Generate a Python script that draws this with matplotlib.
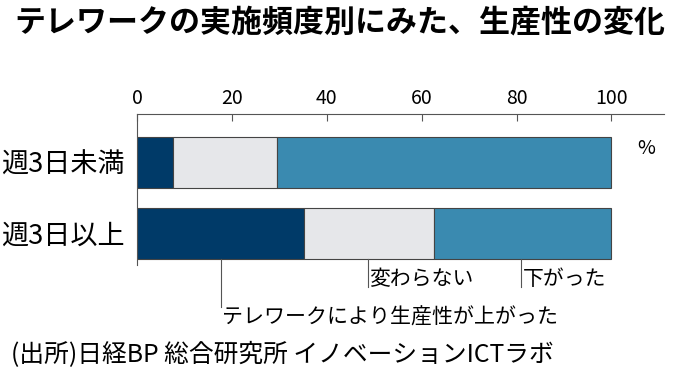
import matplotlib
matplotlib.use("Agg")
import matplotlib.pyplot as plt

plt.rcParams['font.family'] = ['Noto Sans CJK JP', 'DejaVu Sans']

categories = ['週3日未満', '週3日以上']
up = [7.5, 35.2]
same = [22.1, 27.3]
down = [70.4, 37.5]
seg_names = ['テレワークにより生産性が上がった', '変わらない', '下がった']
colors = ['#003a68', '#e6e7ea', '#3a8ab0']
title = 'テレワークの実施頻度別にみた、生産性の変化'
source = '(出所)日経BP 総合研究所 イノベーションICTラボ'

fig = plt.figure(figsize=(6.8, 3.78), dpi=100)
ax = fig.add_axes([0.2015, 0.299, 0.7745, 0.399])

ypos = list(range(len(categories)))
left = [0.0] * len(categories)
for vals, c in zip([up, same, down], colors):
    ax.barh(ypos, vals, left=left, height=0.73, color=c,
            edgecolor='#444444', linewidth=0.8)
    left = [l + v for l, v in zip(left, vals)]

ax.set_xlim(0, 111)
ax.set_ylim(1.444, -0.683)
ax.xaxis.tick_top()
ax.set_xticks([0, 20, 40, 60, 80, 100])
ax.tick_params(axis='x', direction='in', length=5, width=0.8, color='#555555',
               labelsize=14, pad=4)
ax.set_yticks(ypos)
ax.set_yticklabels(categories, fontsize=19.5)
ax.tick_params(axis='y', length=0, pad=9)
for s in ['right', 'bottom']:
    ax.spines[s].set_visible(False)
for s in ['top', 'left']:
    ax.spines[s].set_color('#555555')
    ax.spines[s].set_linewidth(0.8)

ax.text(105.5, -0.2, '%', fontsize=14, ha='left', va='center', clip_on=False)

# leader lines for segment labels (second bar)
bar_bottom = 1.365
ax.plot([17.6, 17.6], [bar_bottom, 2.035], color='#555555', lw=0.8, clip_on=False)
ax.text(18.0, 2.19, seg_names[0], fontsize=15.1, ha='left', va='center')
ax.plot([48.6, 48.6], [bar_bottom, 1.75], color='#555555', lw=0.8, clip_on=False)
ax.text(49.0, 1.64, seg_names[1], fontsize=15, ha='left', va='center')
ax.plot([80.9, 80.9], [bar_bottom, 1.75], color='#555555', lw=0.8, clip_on=False)
ax.text(81.3, 1.64, seg_names[2], fontsize=15, ha='left', va='center')

fig.text(0.5, 0.94, title, fontsize=22.3, fontweight='bold', ha='center', va='center')
fig.text(0.016, 0.06, source, fontsize=17.8, ha='left', va='center')

fig.savefig('out.png', dpi=100)
